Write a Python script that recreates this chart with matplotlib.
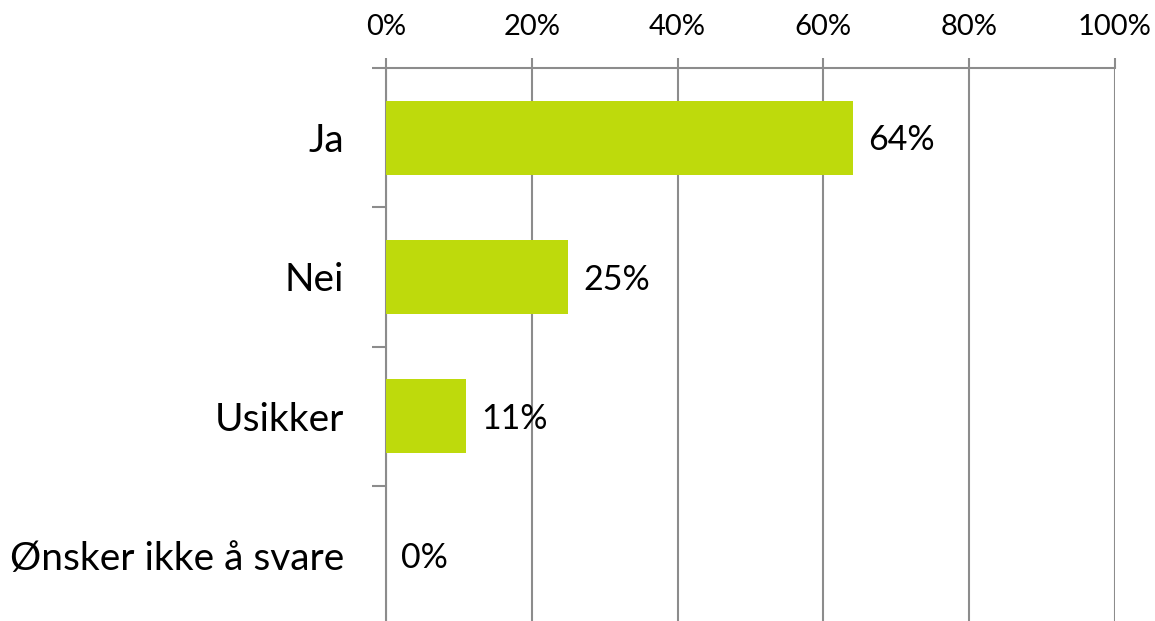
import matplotlib
matplotlib.use("Agg")
import matplotlib.pyplot as plt
from matplotlib.ticker import FixedLocator

# data
categories = ["Ja", "Nei", "Usikker", "Ønsker ikke å svare"]
values = [64, 25, 11, 0]
xticks = [0, 20, 40, 60, 80, 100]

bar_color = "#BEDA0C"
grey = "#8C8C8C"

plt.rcParams["font.family"] = ["Lato", "DejaVu Sans"]

fig = plt.figure(figsize=(11.55, 6.21), dpi=100)
ax = fig.add_axes([386 / 1155, -4 / 621, 729 / 1155, 557 / 621])

pos = list(range(len(categories)))
ax.barh(pos, values, height=0.53, color=bar_color, zorder=3)

for p, v in zip(pos, values):
    ax.annotate(f"{v}%", (v, p), xytext=(11, -2), textcoords="offset points",
                va="center", ha="left", fontsize=24.5, zorder=4)

ax.set_xlim(0, 100)
ax.set_ylim(len(categories) - 0.5, -0.5)

ax.set_xticks(xticks)
ax.set_xticklabels([f"{t}%" for t in xticks])
ax.xaxis.tick_top()
ax.tick_params(axis="x", top=True, bottom=False, length=7.5, width=1.5,
               color=grey, labelsize=21, pad=13)
ax.grid(axis="x", color=grey, linewidth=1.5, zorder=0)

# category labels centred, tick marks at the boundaries
ax.set_yticks(pos)
ax.set_yticklabels(categories)
ax.yaxis.set_minor_locator(FixedLocator([p - 0.5 for p in pos] + [len(pos) - 0.5]))
ax.tick_params(axis="y", which="major", length=0, labelsize=28, pad=30)
ax.tick_params(axis="y", which="minor", length=10, width=1.5, color=grey)

for s in ["right", "bottom"]:
    ax.spines[s].set_visible(False)
for s in ["top", "left"]:
    ax.spines[s].set_color(grey)
    ax.spines[s].set_linewidth(1.5)

fig.savefig("out.png", dpi=100)
